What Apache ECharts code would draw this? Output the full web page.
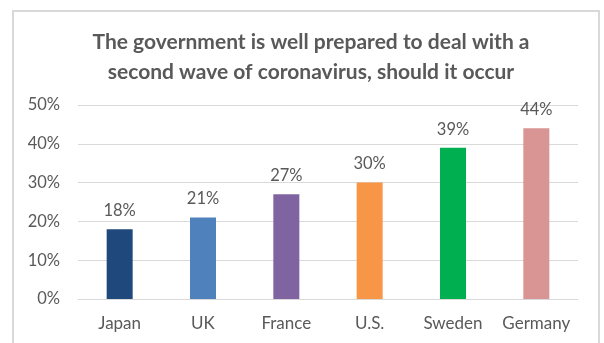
<!DOCTYPE html>
<html>
<head>
<meta charset="utf-8">
<script src="https://cdn.jsdelivr.net/npm/echarts@6/dist/echarts.min.js"></script>
<style>
  html, body { margin: 0; padding: 0; background: #ffffff; }
  #chart { width: 604px; height: 343px; }
</style>
</head>
<body>
<div id="chart"></div>
<script>
// Survey: share agreeing the government is ready for a second wave
const countries = ['Japan', 'UK', 'France', 'U.S.', 'Sweden', 'Germany'];
const shares = [18, 21, 27, 30, 39, 44];
const barColors = ['#1F497D', '#4F81BD', '#8064A2', '#F79646', '#00B050', '#D99594'];
const yTicks = [0, 10, 20, 30, 40, 50];

const font = 'Lato, "Open Sans", sans-serif';
const chart = echarts.init(document.getElementById('chart'), null, { renderer: 'canvas' });

chart.setOption({
  animation: false,
  backgroundColor: '#ffffff',
  graphic: [{
    type: 'rect',
    shape: { x: 13, y: 11, width: 586, height: 340 },
    style: { fill: 'none', stroke: '#d9d9d9', lineWidth: 2 },
    silent: true
  }],
  title: {
    text: 'The government is well prepared to deal with a\nsecond wave of coronavirus, should it occur',
    left: 306,
    top: 22,
    textAlign: 'center',
    textStyle: {
      fontFamily: font,
      fontSize: 21,
      fontWeight: 'bold',
      color: '#595959',
      lineHeight: 30
    }
  },
  grid: { left: 78, right: 26, top: 105, bottom: 44 },
  xAxis: {
    type: 'category',
    data: countries,
    axisLine: { lineStyle: { color: '#d9d9d9', width: 1 } },
    axisTick: { show: false },
    axisLabel: { color: '#595959', fontFamily: font, fontSize: 17, margin: 16, interval: 0 }
  },
  yAxis: {
    type: 'value',
    min: yTicks[0],
    max: yTicks[yTicks.length - 1],
    interval: 10,
    axisLine: { show: false },
    axisTick: { show: false },
    splitLine: { lineStyle: { color: '#d9d9d9', width: 1 } },
    axisLabel: {
      color: '#595959', fontFamily: font, fontSize: 16.5, margin: 18,
      formatter: v => v + '%'
    }
  },
  series: [{
    type: 'bar',
    barWidth: 26,
    data: shares.map((v, i) => ({ value: v, itemStyle: { color: barColors[i] } })),
    label: {
      show: true,
      position: 'top',
      distance: 10,
      color: '#595959',
      fontFamily: font,
      fontSize: 16.5,
      formatter: p => p.value + '%'
    }
  }]
});
</script>
</body>
</html>
